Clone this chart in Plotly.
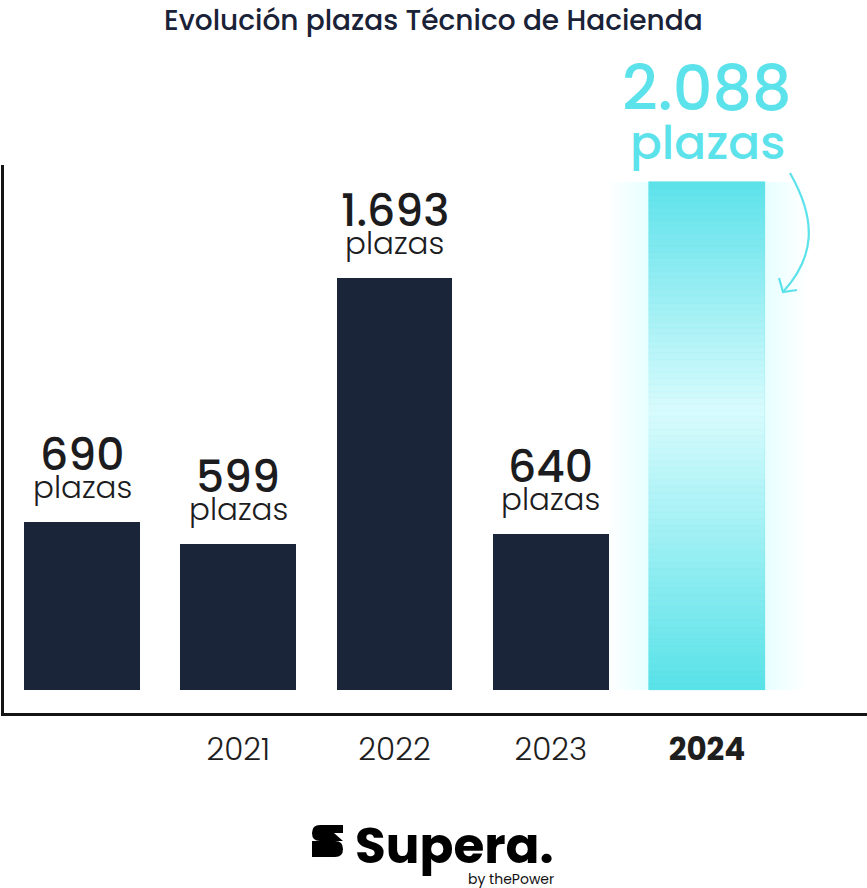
import plotly.graph_objects as go

# ---- data ----
categories = ["2020", "2021", "2022", "2023", "2024"]
tick_labels = ["", "2021", "2022", "2023", "<b>2024</b>"]
values = [690, 599, 1693, 640, 2088]
value_labels = ["690", "599", "1.693", "640", "2.088"]
unit_label = "plazas"

NAVY = "#1b2539"
CYAN = "#5ce2ea"
FONT = "Poppins, Inter, 'Noto Sans', sans-serif"

W, H = 867, 888
ML, MR, MT, MB = 4, 0, 165, 175
x_idx = list(range(len(categories)))
BAR_W = 0.742

fig = go.Figure()

# soft glow behind the highlighted bar
last = len(values) - 1
for k in range(1, 25):
    fig.add_trace(go.Bar(
        x=[x_idx[last]], y=[values[last]], width=[BAR_W + 0.022 * k],
        marker=dict(color=CYAN, line=dict(width=0)), opacity=0.0045,
        hoverinfo="skip", showlegend=False))

# main bars
colors = [NAVY] * last + [CYAN]
fig.add_trace(go.Bar(
    x=x_idx, y=values, width=[BAR_W] * len(values),
    marker=dict(color=colors, line=dict(width=0)),
    hovertext=categories, showlegend=False))

# gradient overlay on highlighted bar (segments of the same value)
def lerp(c1, c2, t):
    a = [int(c1[i:i + 2], 16) for i in (1, 3, 5)]
    b = [int(c2[i:i + 2], 16) for i in (1, 3, 5)]
    return "#%02x%02x%02x" % tuple(round(a[j] + (b[j] - a[j]) * t) for j in range(3))

N = 80
seg = values[last] / N
stops = [(0.0, "#58e2e8"), (0.55, "#d9fbfd"), (1.0, "#5ce2ea")]
seg_colors = []
for i in range(N):
    f = (i + 0.5) / N
    for (p0, c0), (p1, c1) in zip(stops[:-1], stops[1:]):
        if p0 <= f <= p1:
            seg_colors.append(lerp(c0, c1, (f - p0) / (p1 - p0)))
            break
fig.add_trace(go.Bar(
    x=[x_idx[last]] * N, y=[seg] * N, base=[i * seg for i in range(N)],
    width=[BAR_W] * N,
    marker=dict(color=seg_colors, line=dict(width=0.6, color=seg_colors)),
    hoverinfo="skip", showlegend=False))

# value labels
ann = []
for i, (v, lab) in enumerate(zip(values, value_labels)):
    hi = (i == last)
    ann.append(dict(x=i, y=v, xref="x", yref="y", text=lab, showarrow=False,
                    yanchor="middle", yshift=94 if hi else 68,
                    font=dict(family=FONT, size=62 if hi else 44,
                              color=CYAN if hi else "#1c1c1e", weight=500)))
    ann.append(dict(x=i, y=v, xref="x", yref="y", text=unit_label, showarrow=False,
                    yanchor="middle", yshift=40 if hi else 35,
                    font=dict(family=FONT, size=47 if hi else 31,
                              color=CYAN if hi else "#1c1c1e", weight=500 if hi else 300)))

# px -> paper helpers
pw, ph = W - ML - MR, H - MT - MB
def px(xp): return (xp - ML) / pw
def py(yp): return (H - MB - yp) / ph

# title
ann.append(dict(x=px(433), y=py(0), xref="paper", yref="paper",
                text="Evolución plazas Técnico de Hacienda", showarrow=False,
                xanchor="center", yanchor="top", borderpad=0,
                font=dict(family=FONT, size=28, color="#1a2238", weight=500)))
# logo texts
ann.append(dict(x=px(353), y=py(845), xref="paper", yref="paper",
                text="<b>Supera.</b>", showarrow=False, xanchor="left", yanchor="middle",
                font=dict(family=FONT, size=50, color="#000000")))
ann.append(dict(x=px(556), y=py(879), xref="paper", yref="paper",
                text="by thePower", showarrow=False, xanchor="right", yanchor="middle",
                font=dict(family=FONT, size=14, color="#111111")))

shapes = []
# curved arrow (data coords -> convert from px)
def dx(xp): return (xp - 82) / 156.25
ymax_val = max(values)
scale = (690 - 182) / ymax_val
def dy(yp): return (690 - yp) / scale
path = "M %f,%f C %f,%f %f,%f %f,%f" % (dx(790), dy(173), dx(818), dy(222), dx(814), dy(258), dx(783), dy(292))
shapes.append(dict(type="path", xref="x", yref="y", path=path,
                   line=dict(color=CYAN, width=2.2)))
head = "M %f,%f L %f,%f L %f,%f" % (dx(779), dy(278), dx(783), dy(292), dx(797), dy(290))
shapes.append(dict(type="path", xref="x", yref="y", path=head,
                   line=dict(color=CYAN, width=2.2)))

# logo icon (two stacked rounded blocks forming an "S")
def P(xp, yp): return "%f,%f" % (px(xp), py(yp))
top = ("M " + P(320, 825) + " L " + P(343, 825) + " L " + P(343, 841) + " L " + P(320, 841)
       + " Q " + P(312, 841) + " " + P(312, 833) + " Q " + P(312, 825) + " " + P(320, 825) + " Z")
bot = ("M " + P(312, 841) + " L " + P(335, 841) + " Q " + P(343, 841) + " " + P(343, 849)
       + " Q " + P(343, 857) + " " + P(335, 857) + " L " + P(312, 857) + " Z")
for pth in (top, bot):
    shapes.append(dict(type="path", xref="paper", yref="paper", path=pth,
                       fillcolor="#000000", line=dict(width=0)))
shapes.append(dict(type="path", xref="paper", yref="paper",
                   path="M " + P(334, 833) + " L " + P(343, 833) + " L " + P(343, 841) + " Z",
                   fillcolor="#ffffff", line=dict(width=0)))

y_lo = dy(713)
y_hi = dy(165)
x_lo = dx(ML)
x_hi = dx(W - MR)

fig.update_layout(
    width=W, height=H, margin=dict(l=ML, r=MR, t=MT, b=MB),
    paper_bgcolor="white", plot_bgcolor="white", barmode="overlay",
    annotations=ann, shapes=shapes, bargap=0,
    font=dict(family=FONT),
    xaxis=dict(range=[x_lo, x_hi], tickvals=x_idx, ticktext=tick_labels,
               showline=True, linecolor="#151515", linewidth=3, showgrid=False,
               zeroline=False, ticks="", ticklabelstandoff=7,
               tickfont=dict(family=FONT, size=31, color="#1e1e1e", weight=300)),
    yaxis=dict(range=[y_lo, y_hi], showline=True, linecolor="#151515", linewidth=3,
               showgrid=False, zeroline=False, showticklabels=False, ticks=""),
)

fig.write_html("out.html", config={"displayModeBar": False},
               post_script="document.body.style.margin='0';")
